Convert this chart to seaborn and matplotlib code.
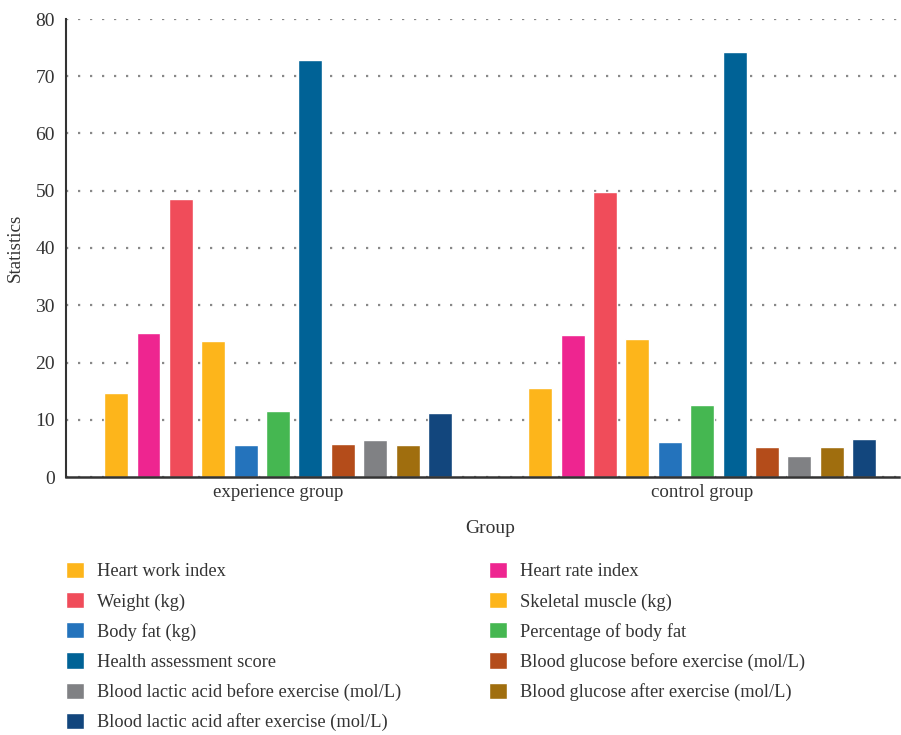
import numpy as np
import pandas as pd
import seaborn as sns
import matplotlib.pyplot as plt

# ---- data ----
groups = ["experience group", "control group"]
metrics = [
    "Heart work index",
    "Heart rate index",
    "Weight (kg)",
    "Skeletal muscle (kg)",
    "Body fat (kg)",
    "Percentage of body fat",
    "Health assessment score",
    "Blood glucose before exercise (mol/L)",
    "Blood lactic acid before exercise (mol/L)",
    "Blood glucose after exercise (mol/L)",
    "Blood lactic acid after exercise (mol/L)",
]
experience_vals = [14.7, 25.2, 48.6, 23.8, 5.6, 11.5, 72.8, 5.8, 6.5, 5.6, 11.2]
control_vals = [15.5, 24.8, 49.8, 24.1, 6.1, 12.6, 74.2, 5.2, 3.7, 5.2, 6.6]
colors = ["#FDB51B", "#EE2590", "#F04C5A", "#FDB51B", "#2473BC", "#45B751",
          "#006296", "#B44C1A", "#808184", "#A06E0E", "#12467D"]

df = pd.DataFrame({
    "Group": np.repeat(groups, len(metrics)),
    "metric": metrics * 2,
    "Statistics": experience_vals + control_vals,
})

sns.set_style("white")
plt.rcParams["font.family"] = ["Liberation Serif", "DejaVu Serif"]
plt.rcParams["text.color"] = "#333333"
plt.rcParams["axes.labelcolor"] = "#333333"
plt.rcParams["xtick.color"] = "#333333"
plt.rcParams["ytick.color"] = "#333333"

fig = plt.figure(figsize=(9.01, 7.35), dpi=100)
ax = fig.add_axes([66 / 901, (735 - 477) / 735, (899 - 66) / 901, 458 / 735])

sns.barplot(data=df, x="Group", y="Statistics", hue="metric", hue_order=metrics,
            palette=dict(zip(metrics, colors)), width=0.84, gap=0.26,
            saturation=1, ax=ax, legend=True)

ax.set_ylim(0, 80)
ax.set_xlim(-0.5, 1.464)
ax.set_yticks(range(0, 81, 10))
ax.yaxis.grid(True, linestyle=(0, (1, 4.4)), color="#888888", linewidth=1.6)
ax.set_axisbelow(True)
for s in ["top", "right"]:
    ax.spines[s].set_visible(False)
ax.spines["left"].set_color("#333333")
ax.spines["bottom"].set_color("#333333")
ax.spines["left"].set_linewidth(1.5)
ax.spines["bottom"].set_linewidth(1.8)
ax.tick_params(axis="y", length=0, labelsize=14, pad=8)
ax.tick_params(axis="x", length=0, labelsize=13.6, pad=5)
ax.set_xlabel("Group", fontsize=14, labelpad=11)
ax.xaxis.set_label_coords((490 - 66) / 833, -0.094)
ax.set_ylabel("Statistics", fontsize=13.7, labelpad=8)

# legend: two columns, filled row by row
handles, labels = ax.get_legend_handles_labels()
ax.get_legend().remove()
order = [0, 2, 4, 6, 8, 10, 1, 3, 5, 7, 9]
fig.legend([handles[i] for i in order], [labels[i] for i in order],
           loc="upper left", bbox_to_anchor=(66 / 901, (735 - 562) / 735),
           ncol=2, frameon=False, fontsize=13.2, borderpad=0, borderaxespad=0,
           handlelength=0.98, handleheight=0.98, handletextpad=0.71,
           labelspacing=0.64, columnspacing=4.78)

fig.savefig("out.png", dpi=100)
